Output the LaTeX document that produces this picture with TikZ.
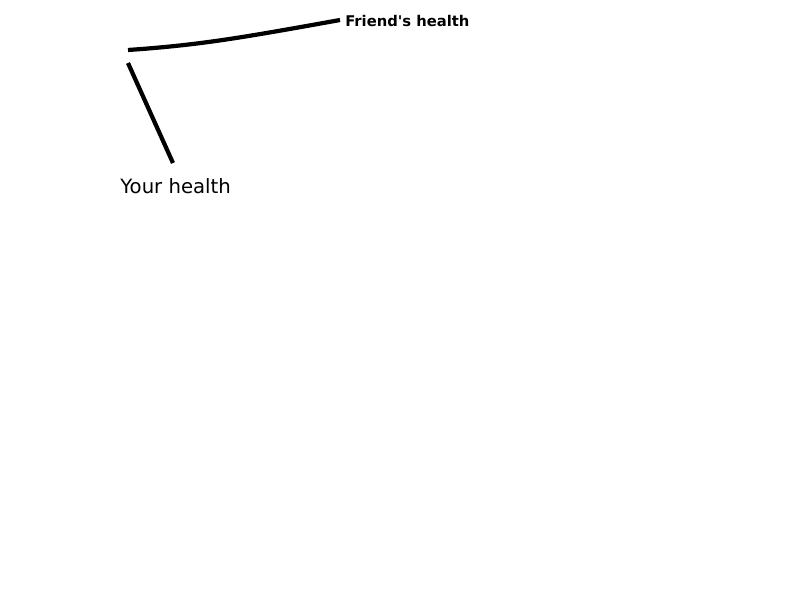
\documentclass[tikz,border=0pt]{standalone}
\usepackage{fontspec}
\setmainfont{DejaVu Sans}
\usetikzlibrary{positioning}

\begin{document}
\begin{tikzpicture}[x=0.25mm, y=-0.25mm,
    axis line/.style={line width=3pt, line cap=butt},
    label text/.style={inner sep=0pt, anchor=west}]
    \useasboundingbox (0,0) rectangle (800,600);
    % axis ends
    \coordinate (top corner) at (128,50);
    \coordinate (low corner) at (128,63);
    \coordinate (friend end) at (340,20);
    \coordinate (you end) at (173,163);
    \node[label text, font=\bfseries\fontsize{10.5}{12}\selectfont] (friend) at (345,21) {Friend\textquotesingle s health};
    \node[label text, font=\fontsize{14}{16}\selectfont] (you) at (120,186) {Your health};
    \draw[axis line] (top corner) .. controls (200,45) and (240,38) .. (friend end);
    \draw[axis line] (low corner) -- (you end);
\end{tikzpicture}
\end{document}
